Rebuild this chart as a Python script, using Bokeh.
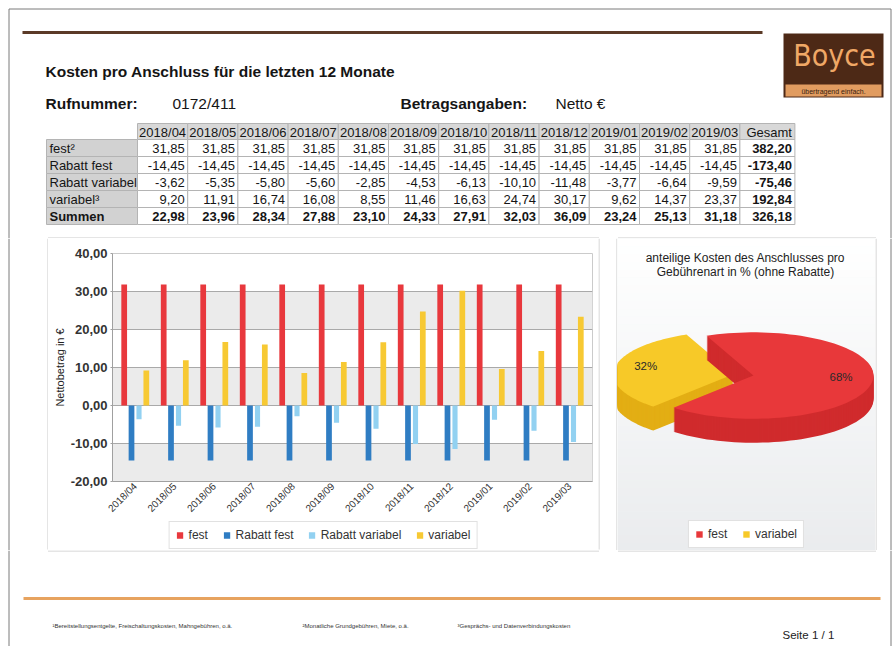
import math
from bokeh.plotting import figure
from bokeh.models import (Range1d, FactorRange, FixedTicker, CustomJSTickFormatter,
                          Legend, LegendItem, BoxAnnotation, ColumnDataSource)
from bokeh.transform import dodge
from bokeh.layouts import row, column
from bokeh.embed import file_html
from bokeh.resources import INLINE
from bokeh.core.properties import value

FONT = "Liberation Sans"

# ---------------- data ----------------
months = ["2018/04", "2018/05", "2018/06", "2018/07", "2018/08", "2018/09",
          "2018/10", "2018/11", "2018/12", "2019/01", "2019/02", "2019/03"]
fest = [31.85, 31.85, 31.85, 31.85, 31.85, 31.85, 31.85, 31.85, 31.85, 31.85, 31.85, 31.85]
rabatt_fest = [-14.45, -14.45, -14.45, -14.45, -14.45, -14.45, -14.45, -14.45, -14.45, -14.45, -14.45, -14.45]
rabatt_variabel = [-3.62, -5.35, -5.80, -5.60, -2.85, -4.53, -6.13, -10.10, -11.48, -3.77, -6.64, -9.59]
variabel = [9.20, 11.91, 16.74, 16.08, 8.55, 11.46, 16.63, 24.74, 30.17, 9.62, 14.37, 23.37]
summen = [22.98, 23.96, 28.34, 27.88, 23.10, 24.33, 27.91, 32.03, 36.09, 23.24, 25.13, 31.18]
gesamt = [382.20, -173.40, -75.46, 192.84, 326.18]
row_labels = ["fest²", "Rabatt fest", "Rabatt variabel", "variabel³", "Summen"]
series_names = ["fest", "Rabatt fest", "Rabatt variabel", "variabel"]
y_ticks = [-20, -10, 0, 10, 20, 30, 40]
pie_names = ["fest", "variabel"]
pie_pct = [68, 32]
footnotes = ["¹Bereitstellungsentgelte, Freischaltungskosten, Mahngebühren, o.ä.",
             "²Monatliche Grundgebühren, Miete, o.ä.",
             "³Gesprächs- und Datenverbindungskosten"]

# ---------------- styles ----------------
BAR_COLORS = ["#e8383d", "#2f7dc3", "#92d1f1", "#f7c933"]
BORDER = "#7a7a7a"
BOX = "#cbcbcb"
TXT = "#151515"


def de(v):
    return f"{v:.2f}".replace(".", ",")


def blank(w, h, y0=0, bg="white"):
    p = figure(width=w, height=h, x_range=Range1d(0, w), y_range=Range1d(y0 + h, y0),
               x_axis_location=None, y_axis_location=None, toolbar_location=None,
               output_backend="svg", min_border=0, title=None, frame_align=False)
    p.grid.visible = False
    p.outline_line_color = None
    p.background_fill_color = bg
    p.border_fill_color = bg
    return p


def make_legend(items, location, margin):
    return Legend(items=items, orientation="horizontal", location=location, margin=margin,
                  padding=6, spacing=14, label_standoff=5, glyph_width=8, glyph_height=8,
                  label_text_font=FONT, label_text_font_size="12px", label_text_color="#333333",
                  border_line_color="#c4c4c4", background_fill_color="white",
                  background_fill_alpha=1, inactive_fill_alpha=0)


W = 896
HDR_H = 238
MID_H = 312
FTR_H = 96
BAR_H = 282
PL, PR, PT = 8.5, 890.5, 8.5   # page border

# ---------------- header ----------------
hdr = blank(W, HDR_H)
hdr.multi_line(xs=[[PL, PL], [PR, PR], [PL, PR]],
               ys=[[PT, HDR_H], [PT, HDR_H], [PT, PT]], line_color=BORDER, line_width=1)
hdr.segment(x0=[22], y0=[32], x1=[762], y1=[32], line_color="#5b3a27", line_width=3)
# logo
hdr.quad(left=[783], right=[883], top=[33], bottom=[97], fill_color="#4d2916", line_color=None)
hdr.quad(left=[785], right=[881], top=[84], bottom=[96], fill_color="#e19c60", line_color=None)
hdr.text(x=[834], y=[55], text=["Boyce"], text_font=value("DejaVu Sans Condensed"),
         text_font_size="30px", text_color="#f0a866", text_align="center", text_baseline="middle")
hdr.text(x=[833], y=[90.5], text=["übertragend einfach."], text_font=value(FONT),
         text_font_size="7px", text_color="#3a1e10", text_align="center", text_baseline="middle")
# titles
hdr.text(x=[45], y=[71], text=["Kosten pro Anschluss für die letzten 12 Monate"],
         text_font=value(FONT), text_font_style="bold", text_font_size="15.5px",
         text_color=TXT, text_baseline="middle")
hdr.text(x=[45, 400], y=[103, 103], text=["Rufnummer:", "Betragsangaben:"],
         text_font=value(FONT), text_font_style="bold", text_font_size="15.5px",
         text_color=TXT, text_baseline="middle")
hdr.text(x=[172, 555], y=[103, 103], text=["0172/411", "Netto €"],
         text_font=value(FONT), text_font_size="15.5px", text_color=TXT, text_baseline="middle")
# box top edges of bar chart and pie chart
hdr.segment(x0=[47.5, 617.5], y0=[HDR_H - 0.5, HDR_H - 0.5], x1=[598.5, 875.5],
            y1=[HDR_H - 0.5, HDR_H - 0.5], line_color=BOX)

# table
col_w = 50.2
tx0, tx1 = 46, 137
g_w = 55
ty0, th, rh = 123, 16, 17
n = len(months)
cx = [tx1 + (i + 0.5) * col_w for i in range(n)] + [tx1 + n * col_w + g_w / 2]
cw = [col_w] * n + [g_w]
right_edges = [tx1 + (i + 1) * col_w - 3 for i in range(n)] + [tx1 + n * col_w + g_w - 3]
hdr.rect(x=cx, y=[ty0 + th / 2] * len(cx), width=cw, height=th,
         fill_color="#d8d8d8", line_color="#b4b4b4")
hdr.text(x=cx[:n], y=[ty0 + th / 2 + 0.5] * n, text=months, text_font=value(FONT),
         text_font_size="13px", text_color=TXT, text_align="center", text_baseline="middle")
hdr.text(x=[right_edges[-1]], y=[ty0 + th / 2 + 0.5], text=["Gesamt"], text_font=value(FONT),
         text_font_size="13px", text_color=TXT, text_align="right", text_baseline="middle")

rows = [fest, rabatt_fest, rabatt_variabel, variabel, summen]
for r, vals in enumerate(rows):
    yc = ty0 + th + (r + 0.5) * rh
    hdr.rect(x=[(tx0 + tx1) / 2], y=[yc], width=tx1 - tx0, height=rh,
             fill_color="#d2d2d2", line_color="#b4b4b4")
    hdr.rect(x=cx, y=[yc] * len(cx), width=cw, height=rh, fill_color="white", line_color="#b4b4b4")
    bold_row = (r == len(rows) - 1)
    hdr.text(x=[tx0 + 3], y=[yc + 0.5], text=[row_labels[r]], text_font=value(FONT),
             text_font_size="13px", text_font_style="bold" if bold_row else "normal",
             text_color=TXT, text_baseline="middle")
    hdr.text(x=right_edges[:n], y=[yc + 0.5] * n, text=[de(v) for v in vals], text_font=value(FONT),
             text_font_size="13px", text_font_style="bold" if bold_row else "normal",
             text_color=TXT, text_align="right", text_baseline="middle")
    hdr.text(x=[right_edges[-1]], y=[yc + 0.5], text=[de(gesamt[r])], text_font=value(FONT),
             text_font_size="13px", text_font_style="bold",
             text_color=TXT, text_align="right", text_baseline="middle")

# ---------------- bar chart ----------------
src = ColumnDataSource(dict(month=months, fest=fest, rf=rabatt_fest, rv=rabatt_variabel, var=variabel))
bar = figure(width=550, height=BAR_H, x_range=FactorRange(factors=months, range_padding=0.0127),
             y_range=Range1d(y_ticks[0], y_ticks[-1]), toolbar_location=None, output_backend="svg",
             title=None, min_border_left=64, min_border_right=6, min_border_top=15,
             min_border_bottom=38)
bar.background_fill_color = "white"
bar.border_fill_color = "white"
bar.outline_line_color = BOX

for i in range(0, len(y_ticks) - 1, 2):
    bar.add_layout(BoxAnnotation(bottom=y_ticks[i], top=y_ticks[i + 1], fill_color="#ebebeb",
                                 fill_alpha=1, line_color=None, level="image"))

offsets = [-0.28, -0.095, 0.095, 0.28]
widths = [0.145, 0.145, 0.13, 0.145]
cols = ["fest", "rf", "rv", "var"]
for col, off, wd, colr in zip(cols, offsets, widths, BAR_COLORS):
    bar.vbar(x=dodge("month", off, range=bar.x_range), top=col, width=wd, source=src,
             fill_color=colr, line_color=None)

tk = FixedTicker(ticks=y_ticks)
bar.yaxis.ticker = tk
bar.ygrid.ticker = tk
bar.ygrid.grid_line_color = "#a9a9a9"
bar.xgrid.visible = False
bar.yaxis.formatter = CustomJSTickFormatter(code="return tick.toFixed(2).replace('.', ',');")
bar.yaxis.axis_label = "Nettobetrag in €"
bar.yaxis.axis_label_text_font = FONT
bar.yaxis.axis_label_text_font_style = "normal"
bar.yaxis.axis_label_text_font_size = "11px"
bar.yaxis.axis_label_text_color = "#222222"
bar.yaxis.axis_label_standoff = 2
bar.yaxis.major_label_text_font = FONT
bar.yaxis.major_label_text_font_style = "bold"
bar.yaxis.major_label_text_font_size = "13px"
bar.yaxis.major_label_text_color = "#333333"
bar.yaxis.major_label_standoff = 3
bar.yaxis.major_tick_out = 2
bar.yaxis.major_tick_in = 0
bar.yaxis.minor_tick_line_color = None
bar.yaxis.axis_line_color = "#a0a0a0"
bar.yaxis.major_tick_line_color = "#a0a0a0"
bar.xaxis.major_label_orientation = math.pi / 4
bar.xaxis.major_label_text_font = FONT
bar.xaxis.major_label_text_font_size = "10px"
bar.xaxis.major_label_text_color = "#333333"
bar.xaxis.major_label_standoff = 3
bar.xaxis.major_tick_out = 0
bar.xaxis.major_tick_in = 0
bar.xaxis.major_tick_line_color = None
bar.xaxis.axis_line_color = "#a0a0a0"

# legend strip under the bar chart (hidden swatch renderers)
leg = blank(550, MID_H - BAR_H)
swatches = [leg.vbar(x=col, top=col, width=1, source=src, fill_color=c, line_color=None, visible=False)
            for col, c in zip(cols, BAR_COLORS)]
leg.add_layout(make_legend([LegendItem(label=nm, renderers=[r]) for nm, r in zip(series_names, swatches)],
                           "center", 0))
bar_box = column(bar, leg)

# ---------------- pie chart ----------------
PX0, PX1, PY0, PY1 = -1.133, 1.017, -1.458, 1.142
pie = figure(width=258, height=MID_H, x_range=Range1d(PX0, PX1), y_range=Range1d(PY0, PY1),
             x_axis_location=None, y_axis_location=None, toolbar_location=None,
             output_backend="svg", min_border=0, title=None, frame_align=False)
pie.grid.visible = False
pie.outline_line_color = None
pie.background_fill_color = "#f4f5f6"
pie.border_fill_color = "#f4f5f6"

# soft vertical background gradient (white at top, light grey at bottom)
NB = 40
g0, g1 = (255, 255, 255), (234, 236, 238)
bg_cols = ["#%02x%02x%02x" % tuple(int(round(g0[c] + (g1[c] - g0[c]) * k / (NB - 1))) for c in range(3))
           for k in range(NB)]
bh = (PY1 - PY0) / NB
pie.quad(left=[PX0] * NB, right=[PX1] * NB, top=[PY1 - k * bh for k in range(NB)],
         bottom=[PY1 - (k + 1) * bh - 0.003 for k in range(NB)], fill_color=bg_cols, line_color=None)

RY, DEPTH, START, NL = 0.36, 0.2, 113.0, 24
EXPLODE = [0.0, 0.17]
PIE_TOP = ["#e8383a", "#f7c928"]
PIE_SIDE = ["#d02b2d", "#e3ae14"]
total = sum(pie_pct)
a = math.radians(START)
slices = []
for pct, ex in zip(pie_pct, EXPLODE):
    span = 2 * math.pi * pct / total
    a0, a1 = a, a - span
    mid = (a0 + a1) / 2
    ox, oy = ex * math.cos(mid), ex * RY * math.sin(mid)
    ts = [a0 + (a1 - a0) * k / 90 for k in range(91)]
    xs = [ox] + [ox + math.cos(t) for t in ts]
    ys = [oy] + [oy + RY * math.sin(t) for t in ts]
    slices.append((xs, ys, mid, ox, oy))
    a = a1

tops = [None] * len(slices)
for idx in reversed(range(len(slices))):
    xs, ys, mid, ox, oy = slices[idx]
    pie.patches(xs=[xs] * NL, ys=[[y - DEPTH * k / NL for y in ys] for k in range(NL, 0, -1)],
                fill_color=PIE_SIDE[idx], line_color=None)
    tops[idx] = pie.patch(x=xs, y=ys, fill_color=PIE_TOP[idx], line_color=None)

lx = [ox + 0.74 * math.cos(mid) for (_, _, mid, ox, oy) in slices]
ly = [oy + 0.74 * RY * math.sin(mid) + 0.03 for (_, _, mid, ox, oy) in slices]
pie.text(x=lx, y=ly, text=[f"{p}%" for p in pie_pct], text_font=value(FONT), text_font_size="11.5px",
         text_color="#2a2a2a", text_align="center", text_baseline="middle")
pie.text(x=[-0.067, -0.067], y=[1.04, 0.923],
         text=["anteilige Kosten des Anschlusses pro", "Gebührenart in % (ohne Rabatte)"],
         text_font=value(FONT), text_font_size="12px", text_color="#222222",
         text_align="center", text_baseline="top")
pie.add_layout(make_legend([LegendItem(label=nm, renderers=[r]) for nm, r in zip(pie_names, tops)],
                           "bottom_center", 2))

# ---------------- side pieces ----------------
left = blank(48, MID_H)
left.segment(x0=[PL, 47.5], y0=[0, 0], x1=[PL, 47.5], y1=[MID_H, MID_H - 1],
             line_color=[BORDER, BOX])
gap = blank(19, MID_H)
gap.segment(x0=[0.5, 18.5], y0=[0, 0], x1=[0.5, 18.5], y1=[MID_H - 1, MID_H], line_color=BOX)
right = blank(21, MID_H)
right.segment(x0=[0.5, PR - 875], y0=[0, 0], x1=[0.5, PR - 875], y1=[MID_H, MID_H],
              line_color=[BOX, BORDER])

# ---------------- footer ----------------
ftr = blank(W, FTR_H, y0=550)
ftr.multi_line(xs=[[PL, PL], [PR, PR]], ys=[[550, 646], [550, 646]], line_color=BORDER)
ftr.segment(x0=[47.5, 617.5], y0=[550.5, 550.5], x1=[598.5, 875.5], y1=[550.5, 550.5], line_color=BOX)
ftr.segment(x0=[23], y0=[598], x1=[880], y1=[598], line_color="#e7a35f", line_width=3)
ftr.text(x=[52, 302, 457], y=[625, 625, 625], text=footnotes, text_font=value(FONT),
         text_font_size="6px", text_color="#333333", text_baseline="middle")
ftr.text(x=[782], y=[634], text=["Seite 1 / 1"], text_font=value(FONT), text_font_size="11.5px",
         text_color="#222222", text_baseline="middle")

layout = column(hdr, row(left, bar_box, gap, pie, right), ftr)
open("out.html", "w").write(file_html(layout, INLINE))
